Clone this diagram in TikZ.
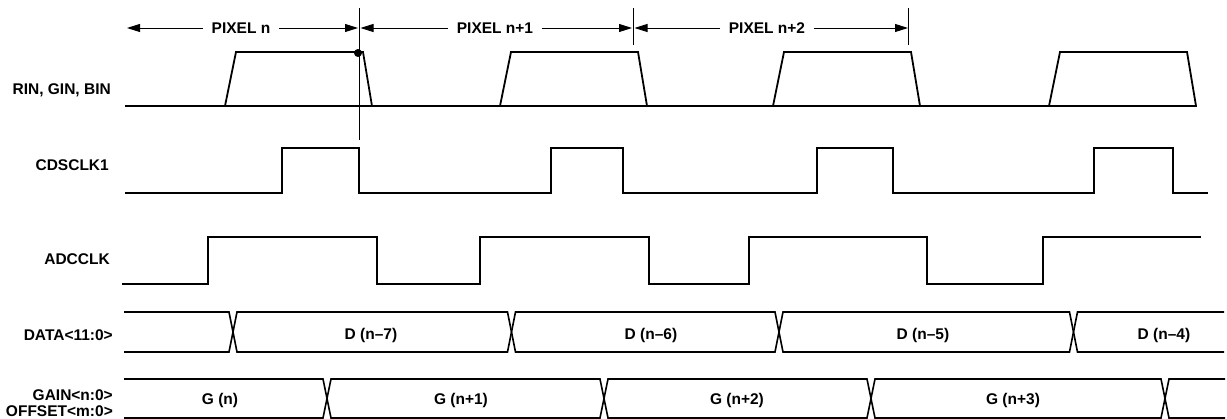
\documentclass[tikz,border=0pt]{standalone}
\usepackage{fontspec}
\setmainfont{Liberation Sans}
\usetikzlibrary{arrows.meta}
\begin{document}
\begin{tikzpicture}[x=1pt,y=-1pt,>={Triangle[length=13pt,width=8pt]},
    wave/.style={black,line width=1.8pt},
    bus/.style={black,line width=1.6pt},
    guide/.style={black,line width=0.9pt},
    txt/.style={font=\fontsize{15.5}{15.5}\selectfont\bfseries,inner sep=0pt},
    lbl/.style={txt,anchor=east,align=right}]
\useasboundingbox (0,0) rectangle (1227,419);

%Signal names on the left
    \node[lbl] (rgb) at (111,90) {RIN, GIN, BIN};
    \node[lbl] (cds) at (109,165) {CDSCLK1};
    \node[lbl] (adc) at (110,259) {ADCCLK};
    \node[lbl] (data) at (113,335) {DATA<11:0>};
    \node[lbl] (gain) at (113,403) {GAIN<n:0>\\OFFSET<m:0>};

%Pixel periods
    \draw[guide] (359,8) -- (359,140);
    \draw[guide] (633,8) -- (633,45);
    \draw[guide] (908,8) -- (908,45);
    \coordinate (p0) at (127,28);
    \coordinate (p1l) at (358,28);
    \coordinate (p1r) at (360.5,28);
    \coordinate (p2l) at (632,28);
    \coordinate (p2r) at (634.5,28);
    \coordinate (p3) at (908,28);
    \node[txt,inner xsep=9pt] (pxn) at (241,28) {PIXEL n};
    \node[txt,inner xsep=9pt] (pxn1) at (495,28) {PIXEL n+1};
    \node[txt,inner xsep=9pt] (pxn2) at (767,28) {PIXEL n+2};
    \draw[guide,->] (pxn.west) -- (p0);
    \draw[guide,->] (pxn.east) -- (p1l);
    \draw[guide,->] (pxn1.west) -- (p1r);
    \draw[guide,->] (pxn1.east) -- (p2l);
    \draw[guide,->] (pxn2.west) -- (p2r);
    \draw[guide,->] (pxn2.east) -- (p3);

%RIN, GIN, BIN
    \draw[wave] (125,106) -- (1197,106);
    \foreach \s in {225,500,773,1049}
    {
        \draw[wave] (\s,106) -- (\s+11,52) -- (\s+138,52) -- (\s+147,106);
    }
    \node[draw,circle,inner sep=0pt,minimum size=7.5pt,fill] (smp) at (358,53) {};

%CDSCLK1
    \draw[wave] (125,193) \foreach \u/\d in {282/359,551/623,817/893,1094/1173}
        { -- (\u,193) -- (\u,148) -- (\d,148) -- (\d,193) } -- (1208,193);

%ADCCLK
    \draw[wave] (122,284) \foreach \u/\d in {208/377,480/649,749/927}
        { -- (\u,284) -- (\u,237) -- (\d,237) -- (\d,284) } -- (1043,284) -- (1043,237) -- (1201,237);

%DATA<11:0>
    \draw[bus] (124,312) -- (229,312) -- (233,332) -- (229,352) -- (124,352);
    \foreach \a/\b in {233/511.5,511.5/779,779/1073.5}
        \draw[bus] (\a,332) -- (\a+4,312) -- (\b-4,312) -- (\b,332) -- (\b-4,352) -- (\a+4,352) -- cycle;
    \draw[bus] (1224,312) -- (1077.5,312) -- (1073.5,332) -- (1077.5,352) -- (1224,352);
    \node[txt] (d7) at (371,335) {D (n–7)};
    \node[txt] (d6) at (651,335) {D (n–6)};
    \node[txt] (d5) at (923,335) {D (n–5)};
    \node[txt] (d4) at (1164,335) {D (n–4)};

%GAIN<n:0>, OFFSET<m:0>
    \draw[bus] (124,379) -- (323,379) -- (327,398.5) -- (323,418) -- (124,418);
    \foreach \a/\b in {327/604,604/871,871/1165}
        \draw[bus] (\a,398.5) -- (\a+4,379) -- (\b-4,379) -- (\b,398.5) -- (\b-4,418) -- (\a+4,418) -- cycle;
    \draw[bus] (1225,379) -- (1169,379) -- (1165,398.5) -- (1169,418) -- (1225,418);
    \node[txt] (g0) at (220,400) {G (n)};
    \node[txt] (g1) at (461,400) {G (n+1)};
    \node[txt] (g2) at (737,400) {G (n+2)};
    \node[txt] (g3) at (1013,400) {G (n+3)};
\end{tikzpicture}
\end{document}
